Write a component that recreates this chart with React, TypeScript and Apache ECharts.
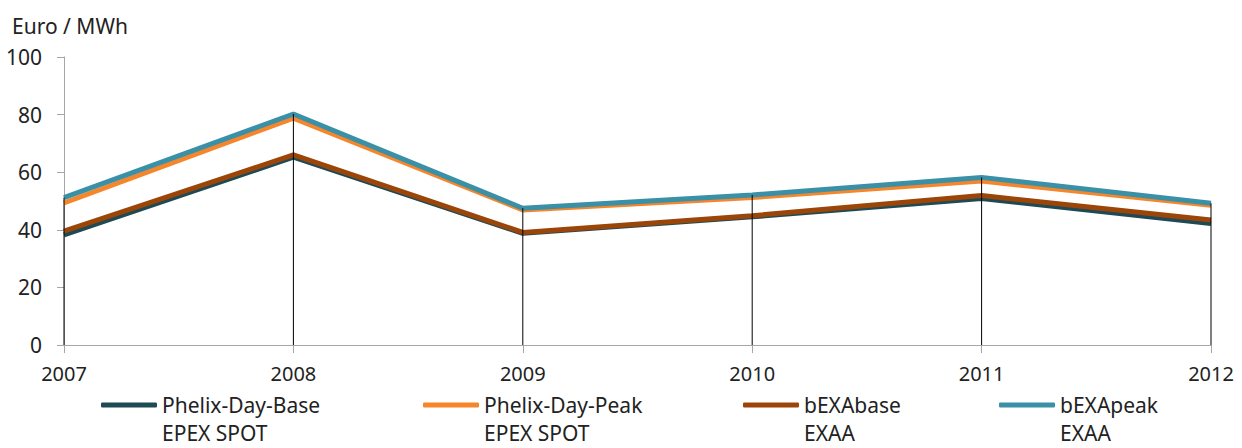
import React, { useEffect, useRef } from "react";
import * as echarts from "echarts";

const years = ["2007", "2008", "2009", "2010", "2011", "2012"];
const phelixBase = [38.2, 65.2, 38.8, 44.5, 50.9, 42.2];
const phelixPeak = [49.3, 78.8, 46.9, 51.2, 56.9, 48.5];
const bexaBase = [39.5, 66.0, 39.1, 44.9, 51.9, 43.4];
const bexaPeak = [51.2, 80.2, 47.5, 52.1, 58.2, 49.2];

const seriesNames = ["Phelix-Day-Base", "Phelix-Day-Peak", "bEXAbase", "bEXApeak"];
const exchangeNames = ["EPEX SPOT", "EPEX SPOT", "EXAA", "EXAA"];
const colors = ["#1d4a55", "#f5862c", "#9c4509", "#3a90a7"];
const yTicks = [0, 20, 40, 60, 80, 100];

const FONT = "'Noto Sans', sans-serif";
const TEXT = "#222222";

export default function App() {
  const ref = useRef<HTMLDivElement>(null);
  useEffect(() => {
    if (!ref.current) return;
    const chart = echarts.init(ref.current, undefined, { renderer: "svg" });
    const allSeries = [phelixBase, phelixPeak, bexaBase, bexaPeak];
    const dropData = years.map((_, i) => [i, Math.max(...allSeries.map((s) => s[i]))]);
    const legendX = [101, 423, 743, 999];
    const textX = [162, 484, 804, 1060];

    chart.setOption({
      animation: false,
      textStyle: { fontFamily: FONT },
      grid: { left: 64, right: 31, top: 57, bottom: 103, containLabel: false },
      xAxis: {
        type: "category",
        data: years,
        boundaryGap: false,
        axisLine: { lineStyle: { color: "#a6a6a6", width: 1 } },
        axisTick: { show: true, length: 8, lineStyle: { color: "#a6a6a6" } },
        axisLabel: { color: TEXT, fontSize: 20, fontFamily: FONT, margin: 18 },
        splitLine: { show: false },
      },
      yAxis: {
        type: "value",
        min: yTicks[0],
        max: yTicks[yTicks.length - 1],
        interval: 20,
        axisLine: { show: true, lineStyle: { color: "#a6a6a6", width: 1 } },
        axisTick: { show: true, length: 7, lineStyle: { color: "#a6a6a6" } },
        axisLabel: { color: TEXT, fontSize: 21, fontFamily: FONT, margin: 22 },
        splitLine: { show: false },
      },
      legend: seriesNames.map((name, i) => ({
        data: [name],
        left: legendX[i],
        top: 393,
        padding: 0,
        icon: "roundRect",
        itemWidth: 56,
        itemHeight: 5,
        textStyle: { color: TEXT, fontSize: 21, fontFamily: FONT, lineHeight: 24 },
      })),
      graphic: [
        {
          type: "text",
          x: 12,
          y: 26,
          style: {
            text: "Euro / MWh",
            fill: TEXT,
            font: `21px ${FONT}`,
            verticalAlign: "middle",
            textVerticalAlign: "middle",
          },
        },
        ...exchangeNames.map((t, i) => ({
          type: "text",
          x: textX[i],
          y: 433,
          style: {
            text: t,
            fill: TEXT,
            font: `21px ${FONT}`,
            lineHeight: 24,
            textVerticalAlign: "middle",
            verticalAlign: "middle",
          },
        })),
      ],
      series: [
        ...allSeries.map((data, i) => ({
          name: seriesNames[i],
          type: "line",
          data,
          symbol: "none",
          lineStyle: { color: colors[i], width: 5 },
          itemStyle: { color: colors[i] },
          z: 2 + i,
        })),
        {
          type: "custom",
          data: dropData,
          z: 20,
          silent: true,
          renderItem: (params: any, api: any) => {
            const top = api.coord([api.value(0), api.value(1)]);
            const bot = api.coord([api.value(0), 0]);
            return {
              type: "line",
              shape: { x1: top[0], y1: top[1], x2: bot[0], y2: bot[1] },
              style: { stroke: "#000000", lineWidth: 1 },
            };
          },
        },
      ],
    });
    return () => chart.dispose();
  }, []);
  return <div ref={ref} style={{ width: 1242, height: 448, position: "absolute", left: 0, top: 0 }} />;
}
